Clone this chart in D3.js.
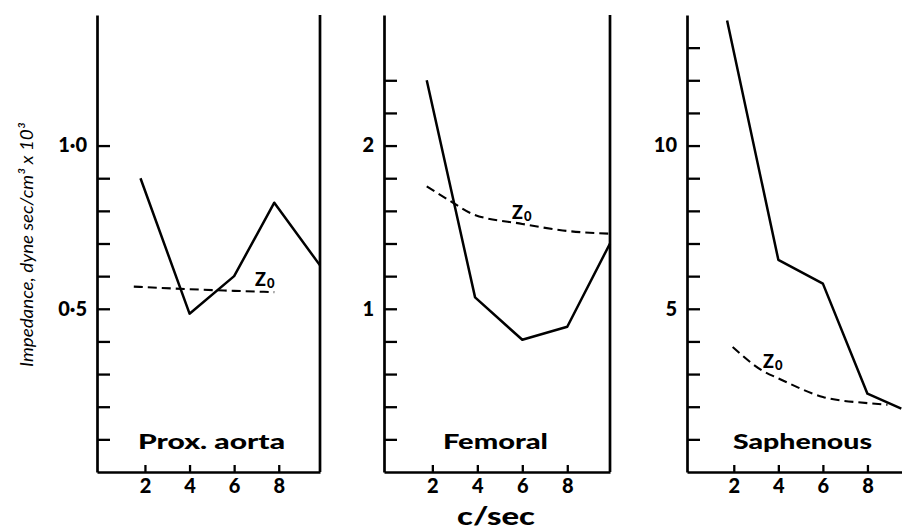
<!DOCTYPE html>
<html>
<head>
<meta charset="utf-8">
<script src="https://cdn.jsdelivr.net/npm/d3@7"></script>
<style>
body{margin:0;background:#fff}
</style>
</head>
<body>
<div id="chart"></div>
<script>
// impedance vs frequency
const aortaFreq = [1.8, 4, 6, 7.8, 9.85];
const aortaImp = [0.90, 0.485, 0.60, 0.825, 0.633];
const aortaZ0Freq = [1.5, 4, 6, 7.8];
const aortaZ0 = [0.568, 0.560, 0.555, 0.551];

const femFreq = [1.75, 3.9, 6, 8, 9.9];
const femImp = [2.40, 1.07, 0.81, 0.89, 1.40];
const femZ0Freq = [1.75, 2.8, 3.8, 6, 7.8, 9.9];
const femZ0 = [1.75, 1.66, 1.58, 1.52, 1.48, 1.46];

const saphFreq = [1.7, 4, 6, 8, 9.52];
const saphImp = [13.83, 6.50, 5.77, 2.40, 1.94];
const saphZ0Freq = [1.95, 3.3, 4, 6, 8, 8.9];
const saphZ0 = [3.83, 3.10, 2.87, 2.30, 2.11, 2.06];

const panelNames = ['Prox. aorta', 'Femoral', 'Saphenous'];
const xTicks = [2, 4, 6, 8];
const yTicks = [
    [0.1, 0.2, 0.3, 0.4, 0.5, 0.6, 0.7, 0.8, 0.9, 1.0],
    [0.2, 0.4, 0.6, 0.8, 1.0, 1.2, 1.4, 1.6, 1.8, 2.0, 2.2, 2.4],
    [1, 2, 3, 4, 5, 6, 7, 8, 9, 10, 11, 12, 13]
];
const yLabels = [[0.5, 1.0], [1, 2], [5, 10]];

const width = 902, height = 532;
const plotBottom = 472, plotTop = 15;
const font = 'Lato, "Open Sans", sans-serif';

var panels = [
    {left: 97, right: 320, xmin: -0.15, xmax: 9.85, ymax: 1.4,
     solid: d3.zip(aortaFreq, aortaImp), dashed: d3.zip(aortaZ0Freq, aortaZ0),
     fmt: d => d3.format('.1f')(d).replace('.', '\u00b7'),
     nameX: 138, nameW: 147, zx: 255, zy: 286},
    {left: 384, right: 610, xmin: -0.15, xmax: 9.9, ymax: 2.8,
     solid: d3.zip(femFreq, femImp), dashed: d3.zip(femZ0Freq, femZ0),
     fmt: d => String(d),
     nameX: 443, nameW: 105, zx: 512, zy: 219},
    {left: 687, right: 912, xmin: -0.1, xmax: 10, ymax: 14,
     solid: d3.zip(saphFreq, saphImp), dashed: d3.zip(saphZ0Freq, saphZ0),
     fmt: d => String(d),
     nameX: 733, nameW: 139, zx: 763, zy: 368}
];

var svg = d3.select('#chart')
    .append('svg')
    .attr('width', width)
    .attr('height', height)
    .style('background', '#fff');

panels.forEach(function(p, i){
    var x = d3.scaleLinear().domain([p.xmin, p.xmax]).range([p.left, p.right]);
    var y = d3.scaleLinear().domain([0, p.ymax]).range([plotBottom, plotTop]);
    var g = svg.append('g');

    var ya = g.append('g')
        .attr('transform', 'translate(' + p.left + ',0)')
        .call(d3.axisLeft(y)
            .tickValues(yTicks[i])
            .tickSize(-13)
            .tickSizeOuter(0)
            .tickPadding(10)
            .tickFormat(d => yLabels[i].indexOf(d) >= 0 ? p.fmt(d) : ''));
    ya.attr('font-family', font).attr('font-size', 20).attr('font-weight', 900);

    var xa = g.append('g')
        .attr('transform', 'translate(0,' + plotBottom + ')')
        .call(d3.axisBottom(x)
            .tickValues(xTicks)
            .tickSize(-7)
            .tickSizeOuter(0)
            .tickPadding(7));
    xa.attr('font-family', font).attr('font-size', 20).attr('font-weight', 900);

    g.selectAll('.domain').attr('stroke-width', 2.7);
    g.selectAll('.tick line').attr('stroke-width', 2.3);
    g.selectAll('.tick text').attr('fill', '#000');

    // right frame line
    g.append('line')
        .attr('x1', x(p.xmax)).attr('x2', x(p.xmax))
        .attr('y1', y(0)).attr('y2', y(p.ymax))
        .attr('stroke', '#000').attr('stroke-width', 2.7);

    var line = d3.line().x(d => x(d[0])).y(d => y(d[1]));
    g.append('path')
        .attr('d', line(p.solid))
        .attr('fill', 'none').attr('stroke', '#000').attr('stroke-width', 2.5)
        .attr('stroke-linejoin', 'round');
    g.append('path')
        .attr('d', line.curve(d3.curveMonotoneX)(p.dashed))
        .attr('fill', 'none').attr('stroke', '#000').attr('stroke-width', 2.1)
        .attr('stroke-dasharray', '9,5');

    var z = g.append('text')
        .attr('x', p.zx).attr('y', p.zy)
        .attr('font-family', font).attr('font-weight', 900).attr('font-size', 18);
    z.append('tspan').text('Z');
    z.append('tspan').attr('font-size', 13).attr('dy', 2).attr('dx', 1).text('0');

    g.append('text')
        .attr('x', p.nameX).attr('y', 449)
        .attr('font-family', font).attr('font-weight', 900).attr('font-size', 21)
        .attr('textLength', p.nameW).attr('lengthAdjust', 'spacingAndGlyphs')
        .text(panelNames[i]);
});

svg.append('text')
    .attr('transform', 'translate(33,245) rotate(-90)')
    .attr('text-anchor', 'middle')
    .attr('font-family', font).attr('font-style', 'italic').attr('font-size', 18)
    .attr('textLength', 244).attr('lengthAdjust', 'spacingAndGlyphs')
    .text('Impedance,  dyne sec/cm\u00b3 x 10\u00b3');

svg.append('text')
    .attr('x', 457).attr('y', 525)
    .attr('font-family', font).attr('font-weight', 900).attr('font-size', 24)
    .attr('textLength', 78).attr('lengthAdjust', 'spacingAndGlyphs')
    .text('c/sec');
</script>
</body>
</html>
